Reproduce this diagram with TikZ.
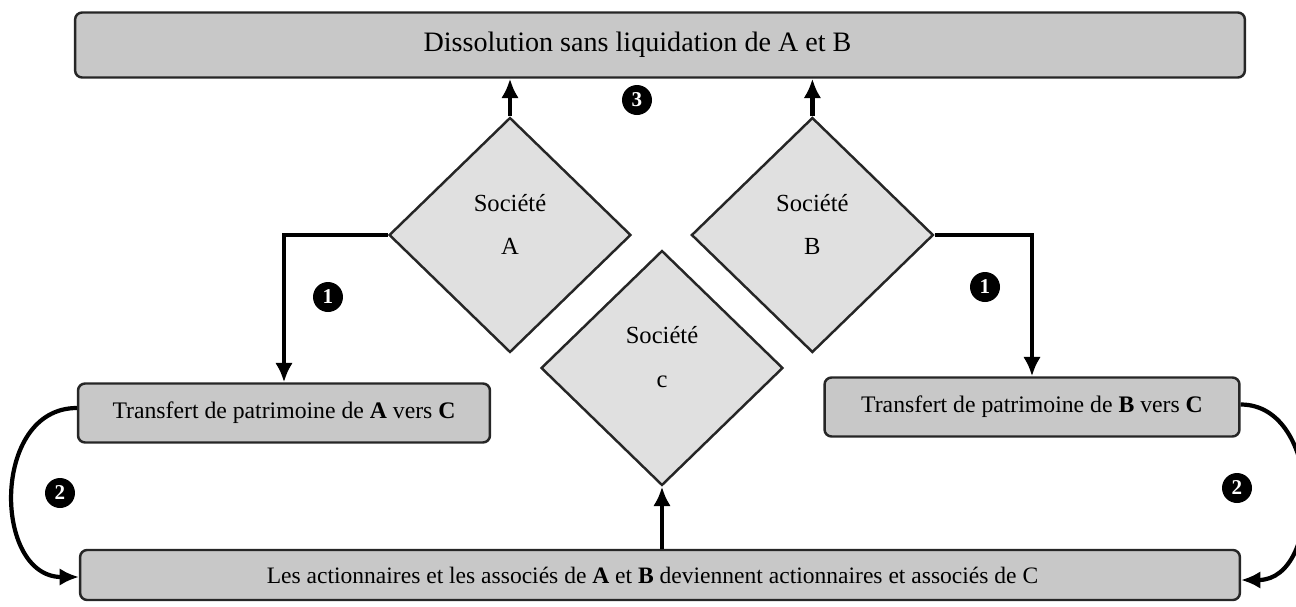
\documentclass[tikz,border=0pt]{standalone}
\usepackage{fontspec}
\setmainfont{Liberation Serif}
\usetikzlibrary{positioning,shapes.geometric,arrows.meta}

\definecolor{boxgray}{RGB}{200,200,200}
\definecolor{diagray}{RGB}{224,224,224}

\tikzset{
  bar/.style={draw=black!85, line width=1.4pt, fill=boxgray, rounded corners=4pt,
    inner sep=0pt, font=\fontsize{16}{18}\selectfont},
  societe/.style={diamond, draw=black!85, line width=1.4pt, fill=diagray, inner sep=0pt,
    minimum width=4.84cm, minimum height=4.7cm},
  soctext/.style={yshift=6pt, align=center, font=\fontsize{14}{16}\selectfont},
  badge/.style={circle, fill=black, text=white, inner sep=0pt, minimum size=0.6cm,
    font=\bfseries\fontsize{12}{12}\selectfont},
  flow/.style={line width=2.4pt, -{Latex[length=11pt,width=10pt]}}
}

\begin{document}
\begin{tikzpicture}[x=0.02cm,y=-0.02cm]
  \useasboundingbox (0,0) rectangle (1296,606);

  % Nodes
  \node[bar, minimum width=23.4cm, minimum height=1.3cm] (dissol) at (660,45)
    {Dissolution sans liquidation de A et B\kern0.9cm};

  \node[societe, label={[soctext]center:Société\\[9pt]A}] (soc_a) at (510,235) {};
  \node[societe, right = 1.16cm of soc_a, label={[soctext]center:Société\\[9pt]B}] (soc_b) {};
  \node[societe, label={[soctext]center:Société\\[9pt]c}] (soc_c) at (662,368) {};

  \node[bar, minimum width=8.24cm, minimum height=1.18cm, font=\fontsize{13.5}{16}\selectfont] (transf_a) at (284,413)
    {Transfert de patrimoine de \textbf{A} vers \textbf{C}};
  \node[bar, minimum width=8.3cm, minimum height=1.18cm, font=\fontsize{13.5}{16}\selectfont] (transf_b) at (1032,407)
    {Transfert de patrimoine de \textbf{B} vers \textbf{C}};

  \node[bar, minimum width=23.2cm, minimum height=1cm, font=\fontsize{13.4}{16}\selectfont] (actions) at (660,575)
    {Les actionnaires et les associés de \textbf{A} et \textbf{B} deviennent actionnaires et associés de C\kern0.3cm};

  % Badges
  \node[badge] (b3) at (637,100) {3};
  \node[badge] (b1_a) at (328,297) {1};
  \node[badge] (b1_b) at (985,287) {1};
  \node[badge] (b2_a) at (60,493) {2};
  \node[badge] (b2_b) at (1237,488) {2};

  % Edges
  \draw[flow] (soc_a.north) -- (soc_a.north |- dissol.south);
  \draw[flow] (soc_b.north) -- (soc_b.north |- dissol.south);

  \draw[flow] (soc_a.west) -| (transf_a.north);
  \draw[flow] (soc_b.east) -| (transf_b.north);

  \draw[flow] (soc_c.south |- actions.north) -- (soc_c.south);

  \draw[flow] ([yshift=0.1cm]transf_a.west) to[out=180, in=180, looseness=1.3] ([yshift=-0.04cm]actions.west);
  \draw[flow] ([yshift=0.05cm]transf_b.east) to[out=0, in=0, looseness=1.2] ([yshift=-0.1cm]actions.east);
\end{tikzpicture}
\end{document}
